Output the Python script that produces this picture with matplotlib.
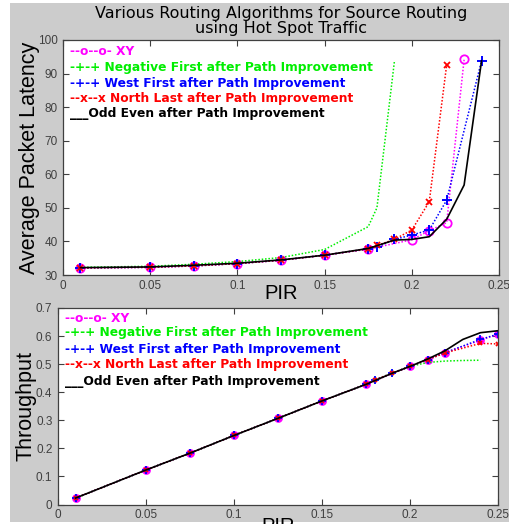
import matplotlib
matplotlib.use("Agg")
import matplotlib.pyplot as plt
from matplotlib.patches import Rectangle

plt.rcParams['font.family'] = ['Liberation Sans', 'DejaVu Sans']

# ---------------- Data: latency (top) ----------------
xy_pir = [0.01, 0.05, 0.075, 0.1, 0.125, 0.15, 0.175, 0.2, 0.21, 0.22, 0.23]
xy_lat = [32.1, 32.3, 32.7, 33.4, 34.4, 35.9, 37.7, 40.5, 43.2, 45.6, 94.2]

nf_pir = [0.01, 0.05, 0.075, 0.1, 0.125, 0.15, 0.175, 0.18, 0.19]
nf_lat = [32.3, 32.6, 33.2, 34.0, 35.2, 37.6, 44.4, 50.0, 93.5]

wf_pir = [0.01, 0.05, 0.075, 0.1, 0.125, 0.15, 0.175, 0.18, 0.19, 0.2, 0.21, 0.22, 0.24]
wf_lat = [32.1, 32.3, 32.7, 33.4, 34.4, 35.9, 37.8, 38.3, 40.6, 41.9, 43.4, 52.3, 93.8]

nl_pir = [0.01, 0.05, 0.075, 0.1, 0.125, 0.15, 0.175, 0.18, 0.19, 0.2, 0.21, 0.22]
nl_lat = [32.1, 32.3, 32.7, 33.4, 34.4, 35.9, 37.8, 38.8, 40.6, 43.4, 51.8, 92.6]

oe_pir = [0.01, 0.05, 0.075, 0.1, 0.125, 0.15, 0.175, 0.19, 0.2, 0.21, 0.22, 0.23, 0.24]
oe_lat = [32.2, 32.4, 32.9, 33.5, 34.5, 35.9, 37.9, 40.4, 40.6, 41.4, 46.6, 56.8, 93.8]

# ---------------- Data: throughput (bottom) ----------------
xy_pir_t = [0.01, 0.05, 0.075, 0.1, 0.125, 0.15, 0.175, 0.2, 0.21, 0.22, 0.24, 0.25]
xy_thr = [0.023, 0.123, 0.183, 0.246, 0.307, 0.369, 0.428, 0.492, 0.516, 0.541, 0.585, 0.607]

nf_pir_t = [0.01, 0.05, 0.075, 0.1, 0.125, 0.15, 0.175, 0.18, 0.19, 0.2, 0.21, 0.22, 0.23, 0.24]
nf_thr = [0.023, 0.123, 0.183, 0.246, 0.307, 0.369, 0.428, 0.444, 0.468, 0.492, 0.506, 0.511, 0.513, 0.514]

wf_pir_t = [0.01, 0.05, 0.075, 0.1, 0.125, 0.15, 0.175, 0.18, 0.19, 0.2, 0.21, 0.22, 0.24, 0.25]
wf_thr = [0.023, 0.123, 0.183, 0.246, 0.307, 0.369, 0.428, 0.444, 0.468, 0.492, 0.516, 0.541, 0.588, 0.607]

nl_pir_t = [0.01, 0.05, 0.075, 0.1, 0.125, 0.15, 0.175, 0.18, 0.19, 0.2, 0.21, 0.22, 0.24, 0.25]
nl_thr = [0.023, 0.123, 0.183, 0.246, 0.307, 0.369, 0.428, 0.444, 0.468, 0.492, 0.516, 0.540, 0.574, 0.572]

oe_pir_t = [0.01, 0.05, 0.075, 0.1, 0.125, 0.15, 0.175, 0.19, 0.2, 0.21, 0.22, 0.23, 0.24, 0.25]
oe_thr = [0.023, 0.123, 0.183, 0.246, 0.307, 0.369, 0.428, 0.468, 0.492, 0.518, 0.548, 0.588, 0.612, 0.619]

legend_labels = ["--o--o- XY",
                 "-+-+ Negative First after Path Improvement",
                 "-+-+ West First after Path Improvement",
                 "--x--x North Last after Path Improvement",
                 "___Odd Even after Path Improvement"]
legend_colors = ["#ff00ff", "#00ee00", "#0000ff", "#ff0000", "#000000"]

title_text = "Various Routing Algorithms for Source Routing\nusing Hot Spot Traffic"

W, H = 509, 524
fig = plt.figure(figsize=(W / 100, H / 100), dpi=100, facecolor="white")
fig.patches.append(Rectangle((10 / W, 2 / H), 1 - 10 / W, 1 - 5 / H,
                             transform=fig.transFigure, facecolor="#cccccc",
                             edgecolor="none", zorder=-10))

def px_axes(l, t, r, b):
    return fig.add_axes([l / W, 1 - b / H, (r - l) / W, (b - t) / H])

ax1 = px_axes(63, 40, 499, 275)
ax2 = px_axes(58, 308, 498, 504.5)

dot = (0, (1.0, 1.2))
lw = 1.1

def style_axes(ax):
    ax.set_facecolor("white")
    for s in ax.spines.values():
        s.set_color("#404040")
        s.set_linewidth(0.9)
    ax.tick_params(direction="in", length=4, width=0.8, colors="#404040",
                   labelsize=8.5, top=True, right=True, labelcolor="#404040")
    ax.tick_params(axis="x", pad=3.5)
    ax.tick_params(axis="y", pad=4)

# ---------- Top plot ----------
ax1.plot(xy_pir, xy_lat, color="#ff00ff", ls=dot, lw=lw, marker="o", ms=6,
         mfc="none", mec="#ff00ff", mew=1.3)
ax1.plot(nf_pir, nf_lat, color="#00ee00", ls=dot, lw=lw)
ax1.plot(wf_pir, wf_lat, color="#0000ff", ls=dot, lw=lw, marker="+", ms=7, mew=1.4)
ax1.plot(nl_pir, nl_lat, color="#ff0000", ls=dot, lw=lw, marker="x", ms=4, mew=1.3)
ax1.plot(oe_pir, oe_lat, color="black", ls="-", lw=1.2)
ax1.set_xlim(0, 0.25)
ax1.set_ylim(30, 100)
ax1.set_xticks([0, 0.05, 0.1, 0.15, 0.2, 0.25])
ax1.set_xticklabels(["0", "0.05", "0.1", "0.15", "0.2", "0.25"])
ax1.set_yticks(range(30, 101, 10))
style_axes(ax1)
ax1.set_xlabel("PIR", fontsize=14.5, labelpad=-6)
ax1.set_ylabel("Average Packet Latency", fontsize=15.5, labelpad=-2)
ax1.set_title(title_text, fontsize=11.5, pad=5, linespacing=1.0,
              family=["DejaVu Sans"])

leg_y1 = [0.949, 0.881, 0.817, 0.749, 0.689]
for lab, col, y in zip(legend_labels, legend_colors, leg_y1):
    ax1.text(0.016, y, lab, color=col, transform=ax1.transAxes, fontsize=8.8,
             fontweight="bold", va="center", ha="left", family=["DejaVu Sans"])

# ---------- Bottom plot ----------
ax2.plot(xy_pir_t, xy_thr, color="#ff00ff", ls=dot, lw=lw, marker="o", ms=5,
         mfc="#ff00ff", mec="#ff00ff", mew=1.3)
ax2.plot(nf_pir_t, nf_thr, color="#00ee00", ls=dot, lw=lw)
ax2.plot(wf_pir_t, wf_thr, color="#0000ff", ls=dot, lw=lw, marker="+", ms=6, mew=1.3)
ax2.plot(nl_pir_t, nl_thr, color="#ff0000", ls=dot, lw=lw, marker="x", ms=3.5, mew=1.3)
ax2.plot(oe_pir_t, oe_thr, color="black", ls="-", lw=1.2)
ax2.set_xlim(0, 0.25)
ax2.set_ylim(0, 0.7)
ax2.set_xticks([0, 0.05, 0.1, 0.15, 0.2, 0.25])
ax2.set_xticklabels(["0", "0.05", "0.1", "0.15", "0.2", "0.25"])
ax2.set_yticks([0, 0.1, 0.2, 0.3, 0.4, 0.5, 0.6, 0.7])
ax2.set_yticklabels(["0", "0.1", "0.2", "0.3", "0.4", "0.5", "0.6", "0.7"])
style_axes(ax2)
ax2.set_xlabel("PIR", fontsize=14.5, labelpad=-3)
ax2.set_ylabel("Throughput", fontsize=15.5, labelpad=-0.5)

leg_y2 = [0.949, 0.873, 0.791, 0.710, 0.628]
for lab, col, y in zip(legend_labels, legend_colors, leg_y2):
    ax2.text(0.016, y, lab, color=col, transform=ax2.transAxes, fontsize=8.8,
             fontweight="bold", va="center", ha="left", family=["DejaVu Sans"])

fig.savefig("out.png", dpi=100, facecolor="white")
